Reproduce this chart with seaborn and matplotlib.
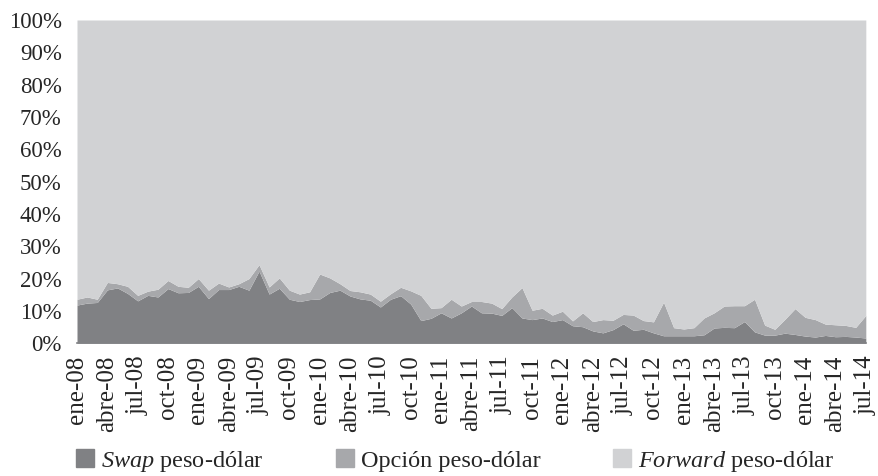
import numpy as np
import pandas as pd
import matplotlib
matplotlib.use("Agg")
import matplotlib.pyplot as plt
import seaborn as sns
from matplotlib.lines import Line2D

# Monthly shares (%), ene-08 .. jul-14
swap = [11.8, 12.4, 12.6, 16.5, 17.1, 15.4, 13.1, 14.8, 14.3, 16.9, 15.6, 15.7,
        17.6, 13.8, 16.6, 16.6, 17.6, 16.4, 22.3, 15.2, 17.0, 13.6, 12.9, 13.5,
        13.7, 15.7, 16.4, 14.6, 13.7, 13.3, 11.2, 13.6, 14.7, 12.1, 7.0, 7.7,
        9.4, 7.8, 9.4, 11.5, 9.4, 9.3, 8.6, 11.0, 7.8, 7.3, 7.8, 6.7,
        7.3, 5.4, 5.1, 3.8, 3.2, 4.2, 6.0, 4.0, 4.3, 3.2, 2.3, 2.3,
        2.3, 2.3, 2.6, 4.7, 4.9, 4.8, 6.7, 3.5, 2.5, 2.5, 3.1, 2.7,
        2.2, 1.9, 2.4, 2.0, 2.1, 1.9, 1.6]
opcion = [1.8, 1.9, 1.0, 2.3, 1.3, 2.2, 1.7, 1.3, 2.4, 2.5, 2.0, 1.6,
          2.4, 2.6, 2.0, 0.8, 0.8, 3.6, 2.0, 2.2, 3.2, 2.8, 2.3, 2.4,
          7.7, 4.5, 2.0, 1.7, 2.2, 1.9, 1.8, 1.7, 2.6, 4.1, 7.8, 3.1,
          1.6, 5.8, 2.1, 1.4, 3.5, 3.1, 2.1, 3.3, 9.4, 2.9, 3.0, 2.0,
          2.6, 1.5, 4.3, 2.9, 4.1, 2.9, 2.9, 4.7, 2.7, 3.4, 10.4, 2.5,
          2.1, 2.5, 5.2, 4.7, 6.6, 6.8, 4.9, 10.1, 3.1, 1.8, 4.3, 8.0,
          5.8, 5.4, 3.5, 3.7, 3.4, 3.0, 7.0]

meses = ["ene", "abre", "jul", "oct"]
anios = ["08", "09", "10", "11", "12", "13", "14"]

df = pd.DataFrame({"swap": swap, "opcion": opcion})
df["forward"] = 100 - df["swap"] - df["opcion"]

colors = ["#808184", "#a7a8ab", "#d1d2d4"]

sns.set_style("white")
plt.rcParams["font.family"] = ["Liberation Serif", "DejaVu Serif"]
plt.rcParams["mathtext.fontset"] = "custom"
plt.rcParams["mathtext.rm"] = "Liberation Serif"
plt.rcParams["mathtext.it"] = "Liberation Serif:italic"

fig, ax = plt.subplots(figsize=(8.79, 4.76), dpi=100)
fig.subplots_adjust(left=0.0876, right=0.985, top=0.958, bottom=0.279)

x = np.arange(len(df))
ax.stackplot(x, df["swap"], df["opcion"], df["forward"], colors=colors, linewidth=0)

ax.set_xlim(0, len(df) - 1)
ax.set_ylim(0, 100)

ticks = x[::3]
labels = [f"{meses[(i // 3) % 4]}-{anios[i // 12]}" for i in ticks]
ax.set_xticks(ticks)
ax.set_xticklabels(labels, rotation=90, fontsize=18)
ax.set_yticks(range(0, 101, 10))
ax.set_yticklabels([f"{v}%" for v in range(0, 101, 10)], fontsize=16.5)
ax.tick_params(axis="both", length=0)
ax.tick_params(axis="y", pad=11)
ax.tick_params(axis="x", pad=9)

sns.despine(ax=ax, left=True)
ax.spines["bottom"].set_color("#808184")
ax.spines["bottom"].set_linewidth(1.2)

handles = [Line2D([], [], marker="s", linestyle="none", markersize=13,
                  markerfacecolor=c, markeredgecolor=c) for c in colors]
names = ["$\\mathit{Swap}$ peso-dólar", "Opción peso-dólar", "$\\mathit{Forward}$ peso-dólar"]
fig.legend(handles, names, loc="center", bbox_to_anchor=(0.516, 0.031), ncol=3,
           frameon=False, fontsize=17.5, handletextpad=0.15, columnspacing=2.85,
           handlelength=1.0)

fig.savefig("out.png", dpi=100)
